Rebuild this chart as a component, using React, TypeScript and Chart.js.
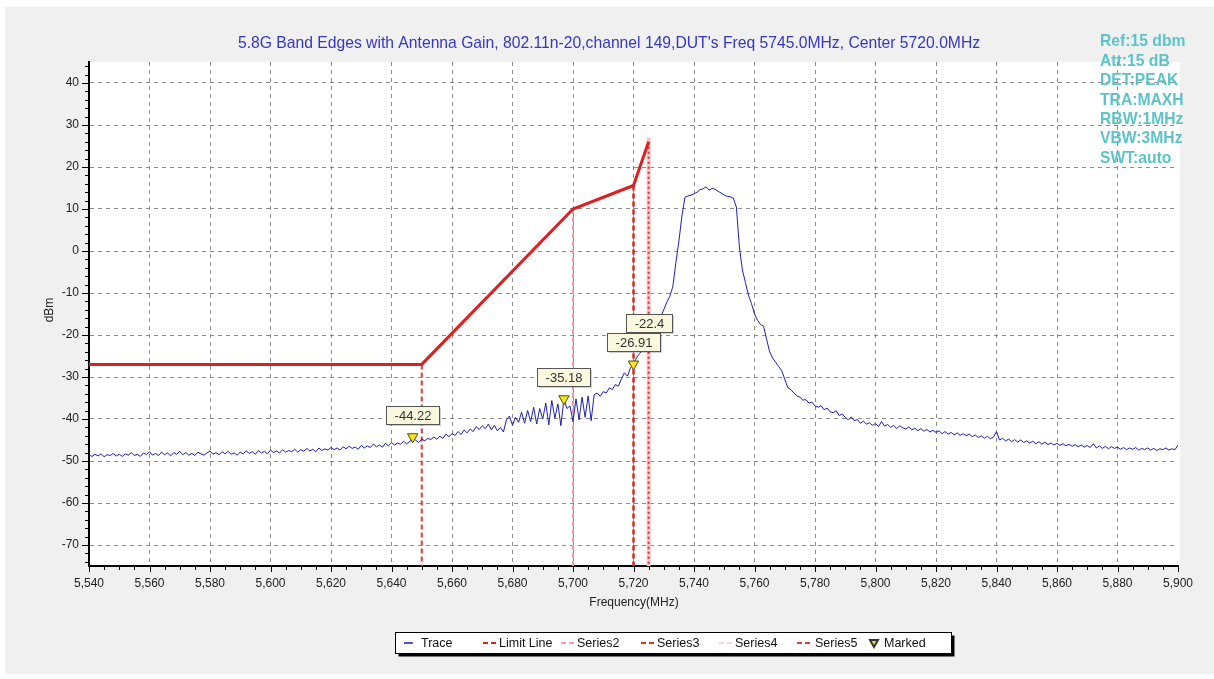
import React, { useEffect, useRef } from 'react';
import { Chart, registerables } from 'chart.js';

Chart.register(...registerables);

const FONT = '"Liberation Sans", Arial, Helvetica, sans-serif';

const titleText =
  "5.8G Band Edges with Antenna Gain, 802.11n-20,channel 149,DUT's Freq 5745.0MHz, Center 5720.0MHz";
const infoLines = ['Ref:15 dbm', 'Att:15 dB', 'DET:PEAK', 'TRA:MAXH', 'RBW:1MHz', 'VBW:3MHz', 'SWT:auto'];
const xTitle = 'Frequency(MHz)';
const yTitle = 'dBm';

const xTicks = [5540, 5560, 5580, 5600, 5620, 5640, 5660, 5680, 5700, 5720, 5740, 5760, 5780, 5800, 5820, 5840, 5860, 5880, 5900];
const yTicks = [-70, -60, -50, -40, -30, -20, -10, 0, 10, 20, 30, 40];
const xMin = 5540;
const xMax = 5900;
const yMin = -75;
const yMax = 45;

// Trace sweep: starts at 5540 MHz, one reading per MHz
const traceStartMHz = 5540;
const traceStepMHz = 1;
const traceLevel = [
  -48.6, -48.9, -48.4, -48.8, -48.3, -49.0, -48.5, -48.7, -48.2, -48.8,
  -48.4, -48.9, -48.3, -48.6, -48.0, -48.7, -48.4, -48.9, -48.1, -48.5,
  -47.8, -48.6, -48.2, -48.7, -47.9, -48.5, -48.1, -48.8, -48.0, -48.4,
  -47.7, -48.5, -48.0, -48.6, -48.2, -48.7, -47.9, -48.3, -48.6, -48.1,
  -47.6, -48.4, -48.0, -48.5, -47.8, -48.3, -47.7, -48.4, -48.1, -48.6,
  -47.9, -48.3, -47.6, -48.2, -47.8, -48.4, -47.5, -48.1, -47.7, -48.3,
  -47.4, -48.0, -47.6, -48.1, -47.3, -47.9, -47.5, -47.8, -47.2, -47.9,
  -47.3, -47.7, -47.0, -47.6, -47.2, -47.8, -46.9, -47.5, -47.1, -47.4,
  -46.8, -47.3, -46.9, -47.4, -46.6, -47.1, -46.5, -47.0, -46.7, -47.2,
  -46.3, -46.9, -46.4, -46.8, -46.0, -46.6, -46.2, -46.7, -45.8, -46.4,
  -45.6, -46.2, -45.7, -46.0, -45.3, -45.9, -45.4, -44.3, -45.1, -45.6,
  -44.8, -45.2, -44.6, -44.9, -44.3, -44.8, -44.1, -44.6, -43.6, -44.2,
  -43.5, -43.9, -43.0, -43.7, -42.6, -43.3, -42.4, -43.0, -41.8, -42.5,
  -41.6, -42.3, -41.2, -42.6, -41.5, -42.8, -42.0, -43.1, -40.2, -39.3,
  -41.5, -39.6, -40.8, -38.4, -41.0, -38.0, -40.6, -37.2, -41.2, -37.5,
  -40.0, -36.2, -41.4, -35.6, -39.8, -36.4, -41.6, -35.2, -37.5, -36.9,
  -40.6, -35.2, -40.2, -34.8, -39.6, -34.5, -40.4, -34.2, -33.8, -34.6,
  -33.5, -33.8, -32.6, -33.0, -31.8, -32.2, -30.5, -29.0, -29.8, -27.8,
  -26.9, -25.4, -24.4, -23.6, -23.0, -22.4, -20.2, -18.6, -16.8, -15.6,
  -14.0, -12.2, -10.8, -8.5, -2.8, 2.3, 8.3, 12.8, 13.1, 13.3,
  13.6, 14.0, 14.6, 14.8, 15.3, 14.5, 14.9, 14.7, 14.2, 13.8,
  13.3, 13.0, 12.9, 12.6, 10.5, 1.0, -4.5, -7.5, -10.5, -12.5,
  -15.0, -16.5, -17.5, -17.9, -21.0, -24.0, -25.5, -26.5, -27.5, -28.5,
  -30.5, -32.5, -33.0, -33.8, -34.5, -34.8, -35.5, -35.4, -36.2, -36.0,
  -36.9, -37.2, -36.8, -37.8, -37.4, -38.3, -38.5, -38.0, -39.2, -38.8,
  -39.6, -40.2, -39.5, -40.4, -40.1, -41.0, -40.5, -41.2, -40.9, -41.5,
  -41.1, -41.8, -40.6, -41.7, -41.3, -42.0, -41.5, -42.3, -41.6, -42.1,
  -42.4, -41.9, -42.6, -42.2, -42.8, -42.3, -42.9, -42.5, -43.1, -42.7,
  -43.2, -42.8, -43.5, -43.0, -43.6, -43.2, -43.8, -43.3, -43.9, -43.5,
  -44.0, -43.6, -44.2, -43.8, -44.4, -44.0, -44.6, -44.1, -44.7, -44.3,
  -43.0, -45.0, -44.6, -45.2, -44.8, -45.4, -44.9, -45.5, -45.0, -45.6,
  -45.2, -45.7, -45.3, -45.9, -45.4, -46.0, -45.5, -46.1, -45.7, -46.2,
  -45.8, -46.3, -45.9, -46.4, -46.0, -46.5, -46.1, -46.6, -46.2, -46.7,
  -46.3, -46.8, -45.9, -46.9, -46.4, -47.0, -46.5, -47.1, -46.6, -47.0,
  -46.7, -47.2, -46.8, -47.3, -46.9, -47.2, -46.8, -47.4, -47.0, -47.3,
  -46.9, -47.4, -47.0, -47.5, -47.1, -47.3, -46.9, -47.4, -47.1, -47.3,
  -46.2,
];

const limitFreq = [5540, 5650, 5700, 5720, 5725];
const limitLevel = [-27, -27, 10, 15.6, 26];

// Vertical band-edge lines: frequency and upper level (they run down to the axis floor)
const edgeFreq = [5650, 5700, 5720, 5725, 5725];
const edgeTop = [-27, 10, 15.6, 27, 26];

const markerFreq = [5647, 5697, 5720, 5725];
const markerLevel = [-44.22, -35.18, -26.91, -22.4];
const markerText = ['-44.22', '-35.18', '-26.91', '-22.4'];

const legendLabels = ['Trace', 'Limit Line', 'Series2', 'Series3', 'Series4', 'Series5', 'Marked'];

const TRACE_COLOR = '#1f1fb4';
const LIMIT_COLOR = '#dd1f1f';
const edgeStyles = [
  { color: '#e23b3b', width: 2, dash: [5, 3] },
  { color: '#f09aa2', width: 2, dash: [5, 3] },
  { color: '#d42828', width: 2.5, dash: [5, 3] },
  { color: '#ffc2c2', width: 4, dash: [] as number[] },
  { color: '#e03030', width: 2, dash: [2, 3] },
];
const legendStyles = [
  { color: TRACE_COLOR, dash: [] as number[], x: 404 },
  { color: '#e02020', dash: [5, 3], x: 483 },
  { color: '#f4a4a4', dash: [5, 3], x: 561 },
  { color: '#e02828', dash: [5, 3], x: 641 },
  { color: '#ffd2d2', dash: [5, 3], x: 719 },
  { color: '#e04040', dash: [5, 3], x: 797 },
  { color: '#f2e21c', dash: [] as number[], x: 870 },
];
const legendTextX = [421, 499, 577, 657, 735, 815, 884];

const decorPlugin = {
  id: 'decor',
  beforeDraw(chart: any) {
    const ctx = chart.ctx;
    const { left, right, top, bottom } = chart.chartArea;
    ctx.save();
    ctx.fillStyle = '#ffffff';
    ctx.fillRect(0, 0, chart.width, chart.height);
    ctx.fillStyle = '#f0f0f0';
    ctx.fillRect(5, 7, chart.width - 5, 667);
    ctx.fillStyle = '#ffffff';
    ctx.fillRect(left, top, right - left + 2, bottom - top);
    ctx.restore();
  },
  afterDraw(chart: any) {
    const ctx = chart.ctx;
    const { left, bottom } = chart.chartArea;
    const xs = chart.scales.x;
    const ys = chart.scales.y;
    ctx.save();

    // tick marks
    ctx.strokeStyle = '#000';
    ctx.lineWidth = 1;
    ctx.setLineDash([]);
    ctx.beginPath();
    for (let v = xMin; v <= xMax; v += 5) {
      const px = Math.round(xs.getPixelForValue(v)) + 0.5;
      const len = (v - xMin) % 20 === 0 ? 5 : 3;
      ctx.moveTo(px, bottom + 1);
      ctx.lineTo(px, bottom + 1 + len);
    }
    for (let v = -74; v <= 44; v += 2) {
      const py = Math.round(ys.getPixelForValue(v)) + 0.5;
      const len = v % 10 === 0 ? 6 : 3;
      ctx.moveTo(left - 1, py);
      ctx.lineTo(left - 1 - len, py);
    }
    ctx.stroke();

    // title
    ctx.fillStyle = '#3636c4';
    ctx.font = `15.7px ${FONT}`;
    ctx.textAlign = 'center';
    ctx.textBaseline = 'middle';
    ctx.fillText(titleText, 609, 44);

    // info text
    ctx.fillStyle = '#5cc3c8';
    ctx.font = `bold 15.7px ${FONT}`;
    ctx.textAlign = 'left';
    infoLines.forEach((t, i) => ctx.fillText(t, 1100, 42 + i * 19.4));

    // axis titles
    ctx.fillStyle = '#222';
    ctx.font = `12px ${FONT}`;
    ctx.textAlign = 'center';
    ctx.fillText(xTitle, 634, 603);
    ctx.save();
    ctx.translate(50, 310);
    ctx.rotate(-Math.PI / 2);
    ctx.fillText(yTitle, 0, 0);
    ctx.restore();

    // legend
    const lx = 395.5, ly = 632.5, lw = 556, lh = 21;
    ctx.fillStyle = '#000';
    ctx.fillRect(lx + 3, ly + 3, lw, lh);
    ctx.fillStyle = '#fff';
    ctx.fillRect(lx, ly, lw, lh);
    ctx.strokeStyle = '#000';
    ctx.lineWidth = 1;
    ctx.strokeRect(lx, ly, lw, lh);
    const cy = ly + lh / 2;
    ctx.font = `12.5px ${FONT}`;
    ctx.textAlign = 'left';
    legendLabels.forEach((lab, i) => {
      const st = legendStyles[i];
      if (lab === 'Marked') {
        ctx.fillStyle = st.color;
        ctx.strokeStyle = '#333';
        ctx.beginPath();
        ctx.moveTo(st.x, cy - 3);
        ctx.lineTo(st.x + 8, cy - 3);
        ctx.lineTo(st.x + 4, cy + 4);
        ctx.closePath();
        ctx.fill();
        ctx.stroke();
      } else {
        ctx.strokeStyle = st.color;
        ctx.lineWidth = i === 0 ? 1.5 : 2;
        ctx.setLineDash(st.dash);
        ctx.beginPath();
        ctx.moveTo(st.x, cy);
        ctx.lineTo(st.x + (i === 0 ? 9 : 13), cy);
        ctx.stroke();
        ctx.setLineDash([]);
      }
      ctx.fillStyle = '#111';
      ctx.fillText(lab, legendTextX[i], cy + 0.5);
    });

    // marker value labels
    const meta = chart.getDatasetMeta(0);
    const orderIdx = [0, 1, 3, 2];
    ctx.font = `13px ${FONT}`;
    ctx.textAlign = 'center';
    ctx.textBaseline = 'middle';
    orderIdx.forEach((i) => {
      const pt = meta.data[i];
      if (!pt) return;
      const txt = markerText[i];
      const w = Math.round(ctx.measureText(txt).width + 16);
      const h = 18;
      const bx = Math.round(pt.x - w / 2) + 0.5;
      const by = Math.round(pt.y - 13 - h) + 0.5;
      ctx.fillStyle = 'rgba(0,0,0,0.18)';
      ctx.fillRect(bx + 1.5, by + 1.5, w, h);
      ctx.fillStyle = '#fbf9dd';
      ctx.fillRect(bx, by, w, h);
      ctx.strokeStyle = '#555';
      ctx.lineWidth = 1;
      ctx.strokeRect(bx, by, w, h);
      ctx.fillStyle = '#333';
      ctx.fillText(txt, bx + w / 2, by + h / 2 + 0.5);
    });

    ctx.restore();
  },
};

export default function App() {
  const ref = useRef<HTMLCanvasElement | null>(null);

  useEffect(() => {
    if (!ref.current) return;
    const tracePoints = traceLevel.map((y, i) => ({ x: traceStartMHz + i * traceStepMHz, y }));
    const limitPoints = limitFreq.map((x, i) => ({ x, y: limitLevel[i] }));
    const markerPoints = markerFreq.map((x, i) => ({ x, y: markerLevel[i] }));
    const edgeSets = edgeFreq.map((f, i) => ({
      label: 'edge' + i,
      data: [
        { x: f, y: edgeTop[i] },
        { x: f, y: yMin },
      ],
      showLine: true,
      borderColor: edgeStyles[i].color,
      borderWidth: edgeStyles[i].width,
      borderDash: edgeStyles[i].dash,
      pointRadius: 0,
      order: 10 - i,
    }));

    const chart = new Chart(ref.current, {
      type: 'scatter',
      data: {
        datasets: [
          {
            label: 'Marked',
            data: markerPoints,
            showLine: false,
            pointStyle: 'triangle',
            rotation: 180,
            pointRadius: 6,
            pointBackgroundColor: '#f5e51e',
            pointBorderColor: '#5a4a00',
            pointBorderWidth: 1,
            order: 0,
          },
          {
            label: 'Trace',
            data: tracePoints,
            showLine: true,
            borderColor: TRACE_COLOR,
            borderWidth: 1,
            pointRadius: 0,
            order: 1,
          },
          {
            label: 'Limit Line',
            data: limitPoints,
            showLine: true,
            borderColor: LIMIT_COLOR,
            borderWidth: 3,
            pointRadius: 0,
            order: 2,
          },
          ...edgeSets,
        ] as any,
      },
      options: {
        animation: false,
        responsive: false,
        devicePixelRatio: 1,
        events: [],
        layout: { padding: { top: 62, right: 36, bottom: 83, left: 0 } },
        plugins: {
          legend: { display: false },
          title: { display: false },
          tooltip: { enabled: false },
        },
        scales: {
          x: {
            type: 'linear',
            min: xMin,
            max: xMax,
            afterFit: (s: any) => {
              s.height = 30;
            },
            afterBuildTicks: (s: any) => {
              s.ticks = xTicks.map((v) => ({ value: v }));
            },
            ticks: {
              padding: 10,
              maxRotation: 0,
              autoSkip: false,
              color: '#222',
              font: { family: FONT, size: 12 },
              callback: (v: any) => Number(v).toLocaleString('en-US'),
            },
            grid: {
              drawTicks: false,
              color: (c: any) =>
                c.tick && (c.tick.value === xMin || c.tick.value === xMax) ? 'rgba(0,0,0,0)' : '#8c8c8c',
              lineWidth: 1,
            },
            border: { display: true, color: '#000', width: 2, dash: [4, 4] },
          },
          y: {
            type: 'linear',
            min: yMin,
            max: yMax,
            afterFit: (s: any) => {
              s.width = 89;
            },
            afterBuildTicks: (s: any) => {
              s.ticks = yTicks.map((v) => ({ value: v }));
            },
            ticks: {
              padding: 10,
              autoSkip: false,
              color: '#222',
              font: { family: FONT, size: 12 },
            },
            grid: {
              drawTicks: false,
              color: '#8c8c8c',
              lineWidth: 1,
            },
            border: { display: true, color: '#000', width: 2, dash: [4, 4] },
          },
        },
      } as any,
      plugins: [decorPlugin],
    });
    return () => chart.destroy();
  }, []);

  return (
    <div style={{ position: 'fixed', left: 0, top: 0, width: 1214, height: 679 }}>
      <canvas ref={ref} width={1214} height={679} />
    </div>
  );
}
